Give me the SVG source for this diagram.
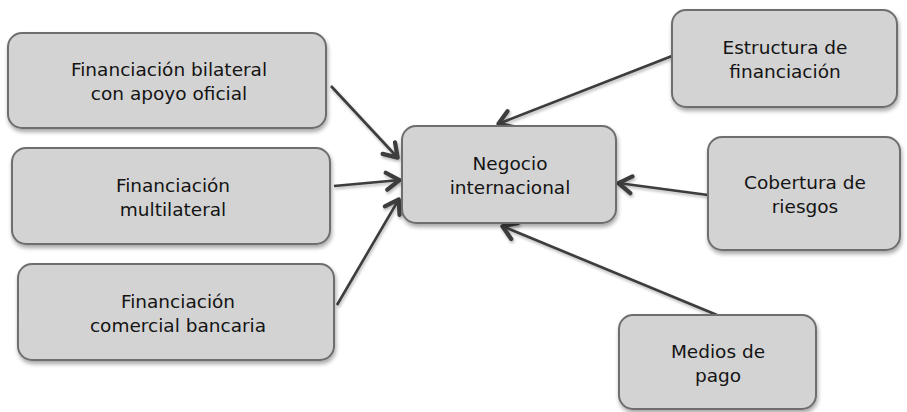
<svg xmlns="http://www.w3.org/2000/svg" width="907" height="412" viewBox="0 0 907 412">
<defs>
<filter id="sh" x="-10%" y="-10%" width="130%" height="130%">
<feGaussianBlur in="SourceAlpha" stdDeviation="2"/>
<feOffset dx="1" dy="3"/>
<feComponentTransfer><feFuncA type="linear" slope="0.35"/></feComponentTransfer>
<feMerge><feMergeNode/><feMergeNode in="SourceGraphic"/></feMerge>
</filter>
<filter id="lsh" x="-20%" y="-20%" width="140%" height="140%">
<feGaussianBlur in="SourceAlpha" stdDeviation="1.5"/>
<feOffset dx="1" dy="2"/>
<feComponentTransfer><feFuncA type="linear" slope="0.3"/></feComponentTransfer>
<feMerge><feMergeNode/><feMergeNode in="SourceGraphic"/></feMerge>
</filter>
<marker id="ah" viewBox="0 0 20 22" refX="16.5" refY="11" markerWidth="20" markerHeight="22" markerUnits="userSpaceOnUse" orient="auto">
<path d="M3,2.5 L16,11 L3,19.5" fill="none" stroke="#3c3c3c" stroke-width="4.2" stroke-linecap="round" stroke-linejoin="round"/>
</marker>
</defs>
<style>
.box{fill:#d3d3d3;stroke:#6e6e6e;stroke-width:2;filter:url(#sh)}
.t{font-family:"DejaVu Sans",sans-serif;font-size:18.5px;fill:#141414;text-anchor:middle}
.c{stroke:#3c3c3c;stroke-width:2.6;fill:none;marker-end:url(#ah)}
</style>
<rect width="907" height="412" fill="#ffffff"/>
<g id="connectors" filter="url(#lsh)">
<line class="c" x1="331" y1="86" x2="398" y2="158"/>
<line class="c" x1="334" y1="186" x2="400" y2="180"/>
<line class="c" x1="337" y1="305" x2="399" y2="199"/>
<line class="c" x1="672" y1="56" x2="498" y2="124"/>
<line class="c" x1="708" y1="195" x2="618" y2="183"/>
<line class="c" x1="717" y1="315" x2="502" y2="226"/>
</g>
<g id="n_bilateral">
<rect class="box" x="8" y="33" width="318" height="95" rx="14"/>
<text class="t" x="169" y="76">Financiación bilateral</text>
<text class="t" x="169" y="100">con apoyo oficial</text>
</g>
<g id="n_multilateral">
<rect class="box" x="12" y="148" width="318" height="96" rx="14"/>
<text class="t" x="173" y="191.5">Financiación</text>
<text class="t" x="173" y="215.5">multilateral</text>
</g>
<g id="n_comercial">
<rect class="box" x="18" y="264" width="316" height="96" rx="14"/>
<text class="t" x="178" y="307.5">Financiación</text>
<text class="t" x="178" y="331.5">comercial bancaria</text>
</g>
<g id="n_negocio">
<rect class="box" x="402" y="126" width="214" height="97" rx="14"/>
<text class="t" x="510" y="170">Negocio</text>
<text class="t" x="510" y="194">internacional</text>
</g>
<g id="n_estructura">
<rect class="box" x="672" y="10" width="225" height="97" rx="14"/>
<text class="t" x="785" y="54">Estructura de</text>
<text class="t" x="785" y="78">financiación</text>
</g>
<g id="n_cobertura">
<rect class="box" x="708" y="137" width="192" height="113" rx="14"/>
<text class="t" x="805" y="189">Cobertura de</text>
<text class="t" x="805" y="213">riesgos</text>
</g>
<g id="n_medios">
<rect class="box" x="619" y="315" width="197" height="94" rx="14"/>
<text class="t" x="718" y="357.5">Medios de</text>
<text class="t" x="718" y="381.5">pago</text>
</g>
</svg>
